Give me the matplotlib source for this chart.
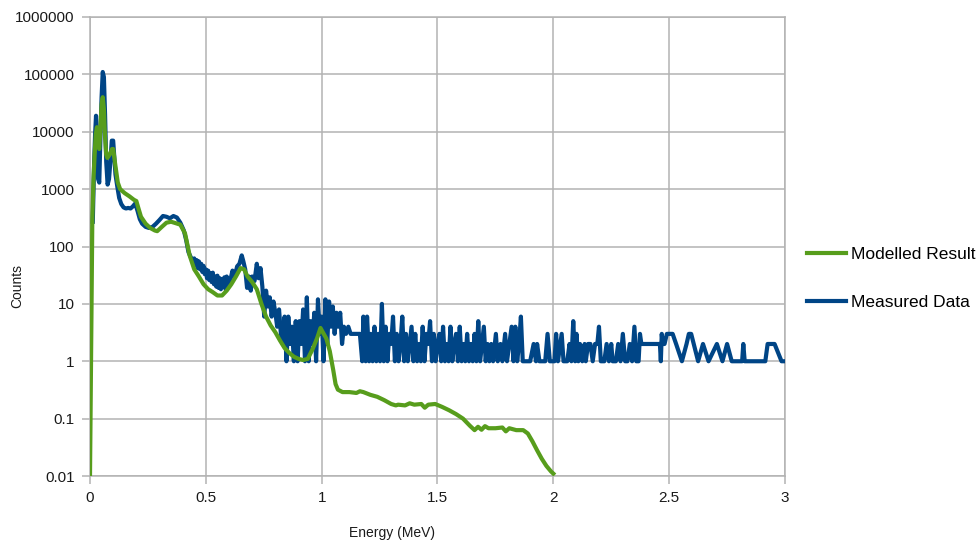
import matplotlib
matplotlib.use("Agg")
import matplotlib.pyplot as plt

# measured spectrum (energy MeV, counts)
measured_peak = [
    (0.012, 270), (0.018, 3000), (0.022, 9000), (0.026, 19000), (0.030, 6000),
    (0.035, 1500), (0.040, 1300), (0.045, 8000), (0.050, 40000), (0.055, 110000),
    (0.060, 90000), (0.065, 20000), (0.070, 3000), (0.076, 1200), (0.082, 1500),
    (0.088, 3000), (0.094, 7000), (0.100, 7000), (0.105, 3500), (0.110, 1800),
    (0.118, 1100), (0.126, 700), (0.135, 550), (0.145, 480), (0.155, 460),
    (0.165, 470), (0.175, 460), (0.185, 500), (0.195, 560), (0.205, 420),
    (0.215, 300), (0.225, 250), (0.240, 220), (0.255, 210), (0.270, 220),
    (0.285, 250), (0.300, 290), (0.315, 340), (0.330, 330), (0.345, 310),
    (0.360, 340), (0.375, 320), (0.390, 260), (0.405, 190), (0.415, 130),
    (0.425, 80), (0.435, 65), (0.445, 55),
]
measured_mid = [
    (0.450, 62), (0.455, 48), (0.460, 58), (0.465, 42), (0.470, 55),
    (0.475, 40), (0.480, 50), (0.485, 36), (0.490, 46), (0.495, 33),
    (0.500, 40), (0.505, 28), (0.510, 38), (0.515, 26), (0.520, 34),
    (0.525, 24), (0.530, 35), (0.535, 22), (0.540, 30), (0.545, 20),
    (0.550, 31), (0.555, 19), (0.560, 28), (0.565, 18), (0.570, 27),
    (0.575, 20), (0.580, 29), (0.585, 18), (0.590, 30), (0.595, 22),
    (0.605, 25), (0.615, 38), (0.625, 30), (0.635, 45), (0.645, 50),
    (0.655, 70), (0.662, 55), (0.670, 40), (0.678, 19), (0.686, 30),
    (0.694, 17), (0.700, 30), (0.710, 25), (0.720, 50), (0.728, 28),
    (0.736, 42), (0.744, 20), (0.752, 6), (0.760, 17), (0.768, 9),
    (0.776, 13), (0.784, 6), (0.792, 11), (0.800, 7), (0.808, 4),
    (0.816, 8), (0.824, 3), (0.832, 2), (0.840, 6), (0.848, 1),
    (0.856, 6), (0.864, 2), (0.872, 4), (0.880, 1), (0.888, 5),
    (0.896, 1), (0.904, 5), (0.912, 2), (0.920, 8), (0.928, 1),
    (0.936, 13), (0.944, 1), (0.952, 5), (0.960, 2), (0.968, 7),
    (0.976, 1), (0.984, 12), (0.992, 3), (1.000, 6), (1.008, 1),
    (1.016, 12), (1.024, 2), (1.032, 11), (1.040, 4), (1.048, 9),
    (1.056, 3), (1.064, 7), (1.072, 4), (1.080, 7), (1.088, 2),
    (1.096, 4), (1.105, 3), (1.115, 4), (1.125, 3), (1.135, 3),
    (1.145, 3), (1.155, 3), (1.165, 3),
]
measured_tail = [
    (1.175, 1), (1.180, 6), (1.190, 1), (1.196, 6), (1.205, 1), (1.212, 3),
    (1.220, 1), (1.228, 4), (1.236, 1), (1.244, 3), (1.252, 1), (1.260, 10),
    (1.268, 1), (1.276, 4), (1.284, 1), (1.292, 3), (1.300, 2), (1.308, 6),
    (1.316, 1), (1.324, 3), (1.332, 1), (1.340, 2), (1.348, 6), (1.356, 1),
    (1.364, 3), (1.372, 1), (1.380, 2), (1.388, 4), (1.396, 1), (1.404, 3),
    (1.412, 1), (1.420, 2), (1.428, 1), (1.436, 4), (1.444, 1), (1.452, 3),
    (1.460, 2), (1.468, 5), (1.476, 1), (1.484, 3), (1.492, 1), (1.500, 2),
    (1.508, 3), (1.516, 1), (1.524, 4), (1.532, 1), (1.540, 2), (1.548, 1),
    (1.556, 4), (1.564, 1), (1.572, 2), (1.580, 3), (1.588, 1), (1.596, 4),
    (1.604, 1), (1.612, 2), (1.620, 1), (1.628, 3), (1.636, 1), (1.644, 2),
    (1.652, 1), (1.660, 3), (1.668, 1), (1.676, 5), (1.684, 1), (1.692, 2),
    (1.700, 4), (1.708, 1), (1.716, 2), (1.724, 1), (1.732, 2), (1.740, 1),
    (1.752, 3), (1.760, 1), (1.772, 2), (1.780, 1), (1.792, 3), (1.800, 1),
    (1.810, 2), (1.820, 4), (1.828, 1), (1.836, 4), (1.844, 1), (1.852, 2),
    (1.860, 6), (1.868, 1), (1.900, 1), (1.915, 2), (1.925, 1), (1.930, 2),
    (1.940, 1), (1.965, 1), (1.975, 3), (1.985, 1), (2.005, 1), (2.012, 3),
    (2.020, 1), (2.030, 2), (2.036, 3), (2.044, 1), (2.060, 1), (2.070, 2),
    (2.078, 1), (2.086, 5), (2.094, 1), (2.100, 3), (2.108, 1), (2.115, 2),
    (2.125, 1), (2.135, 2), (2.140, 1), (2.150, 2), (2.160, 2), (2.170, 1),
    (2.180, 2), (2.190, 2), (2.197, 4), (2.205, 1), (2.220, 1), (2.230, 2),
    (2.240, 1), (2.250, 2), (2.256, 1), (2.270, 1), (2.280, 2), (2.290, 1),
    (2.300, 3), (2.310, 1), (2.320, 1), (2.330, 2), (2.340, 1), (2.350, 4),
    (2.358, 1), (2.368, 1), (2.374, 3), (2.380, 2), (2.460, 2), (2.464, 1),
    (2.468, 3), (2.472, 2), (2.480, 2), (2.490, 3), (2.515, 3), (2.530, 2),
    (2.555, 1), (2.575, 2), (2.585, 3), (2.595, 3), (2.625, 1), (2.646, 2),
    (2.670, 1), (2.706, 2), (2.730, 1), (2.750, 2), (2.770, 1), (2.815, 1),
    (2.820, 2), (2.826, 1), (2.915, 1), (2.925, 2), (2.955, 2), (2.985, 1),
    (3.000, 1),
]

# modelled result (energy MeV, counts)
modelled_points = [
    (0.000, 0.01), (0.010, 300), (0.015, 1500), (0.020, 4000), (0.025, 9000),
    (0.030, 12000), (0.035, 6000), (0.040, 5000), (0.045, 12000), (0.050, 30000),
    (0.055, 40000), (0.060, 25000), (0.065, 8000), (0.070, 4000), (0.075, 3500),
    (0.085, 4000), (0.095, 5000), (0.100, 5000), (0.110, 2500), (0.120, 1300),
    (0.130, 1000), (0.150, 850), (0.170, 750), (0.190, 650), (0.200, 620),
    (0.210, 450), (0.220, 330), (0.240, 250), (0.260, 210), (0.280, 190),
    (0.290, 185), (0.310, 220), (0.330, 260), (0.350, 270), (0.370, 255),
    (0.390, 240), (0.410, 170), (0.420, 110), (0.430, 70), (0.450, 40),
    (0.470, 30), (0.490, 22), (0.510, 18), (0.530, 16), (0.550, 14),
    (0.570, 14), (0.590, 17), (0.610, 22), (0.630, 30), (0.650, 42),
    (0.665, 40), (0.680, 30), (0.700, 24), (0.720, 18), (0.740, 10),
    (0.760, 6), (0.780, 4.2), (0.800, 3.2), (0.820, 2.3), (0.840, 1.7),
    (0.860, 1.4), (0.880, 1.2), (0.900, 1.1), (0.920, 1.05), (0.940, 1.1),
    (0.960, 1.6), (0.980, 2.5), (0.995, 3.8), (1.005, 3.2), (1.020, 2.5),
    (1.035, 1.5), (1.050, 0.7), (1.060, 0.4), (1.070, 0.32), (1.090, 0.29),
    (1.120, 0.29), (1.150, 0.28), (1.165, 0.30), (1.180, 0.29), (1.210, 0.26),
    (1.240, 0.24), (1.270, 0.21), (1.300, 0.18), (1.320, 0.17), (1.330, 0.175),
    (1.360, 0.17), (1.380, 0.185), (1.400, 0.175), (1.430, 0.18), (1.445, 0.155),
    (1.460, 0.175), (1.490, 0.18), (1.520, 0.16), (1.550, 0.14), (1.580, 0.12),
    (1.610, 0.10), (1.640, 0.075), (1.660, 0.063), (1.675, 0.072), (1.690, 0.064),
    (1.705, 0.074), (1.720, 0.068), (1.750, 0.068), (1.780, 0.070), (1.795, 0.060),
    (1.810, 0.068), (1.840, 0.063), (1.870, 0.063), (1.890, 0.055), (1.910, 0.040),
    (1.930, 0.028), (1.950, 0.020), (1.970, 0.015), (1.990, 0.012), (2.000, 0.011),
]

y_ticks = [0.01, 0.1, 1, 10, 100, 1000, 10000, 100000, 1000000]
y_tick_labels = ["0.01", "0.1", "1", "10", "100", "1000", "10000", "100000", "1000000"]
x_ticks = [0, 0.5, 1, 1.5, 2, 2.5, 3]
x_tick_labels = ["0", "0.5", "1", "1.5", "2", "2.5", "3"]

plt.rcParams["font.family"] = ["Liberation Sans", "DejaVu Sans"]

measured = measured_peak + measured_mid + measured_tail
meas_e = [p[0] for p in measured]
meas_c = [p[1] for p in measured]
model_e = [p[0] for p in modelled_points]
model_c = [p[1] for p in modelled_points]

W, H = 979, 544
fig = plt.figure(figsize=(W / 100, H / 100), dpi=100)
ax = fig.add_axes([90 / W, 1 - 476 / H, (785 - 90) / W, (476 - 17) / H])

grid_col = "#b3b3b3"
ax.plot(meas_e, meas_c, color="#004586", lw=3.0, label="Measured Data",
        solid_joinstyle="round", zorder=3)
ax.plot(model_e, model_c, color="#579d1c", lw=3.0, label="Modelled Result",
        solid_joinstyle="round", zorder=4)

ax.set_yscale("log")
ax.set_xlim(0, 3)
ax.set_ylim(0.01, 1000000)
ax.set_yticks(y_ticks)
ax.set_yticklabels(y_tick_labels)
ax.set_xticks(x_ticks)
ax.set_xticklabels(x_tick_labels)
ax.minorticks_off()
ax.grid(True, color=grid_col, lw=1.1)
ax.set_axisbelow(True)
for s in ax.spines.values():
    s.set_color(grid_col)
    s.set_linewidth(1.1)
ax.tick_params(axis="both", colors=grid_col, length=6, width=1.1,
               labelsize=11, labelcolor="#1a1a1a", pad=5)

fig.text(392 / W, 1 - 533 / H, "Energy (MeV)", ha="center", va="center",
         fontsize=10, color="#1a1a1a")
fig.text(17 / W, 1 - 286 / H, "Counts", ha="center", va="center",
         rotation=90, fontsize=10, color="#1a1a1a")

handles, labels = ax.get_legend_handles_labels()
ax.legend(handles[::-1], labels[::-1], loc="center left",
          bbox_to_anchor=(1.031, 0.43), frameon=False, fontsize=12.5,
          handlelength=2.3, handletextpad=0.25, labelspacing=1.9,
          borderpad=0, borderaxespad=0)

fig.savefig("out.png", dpi=100)
